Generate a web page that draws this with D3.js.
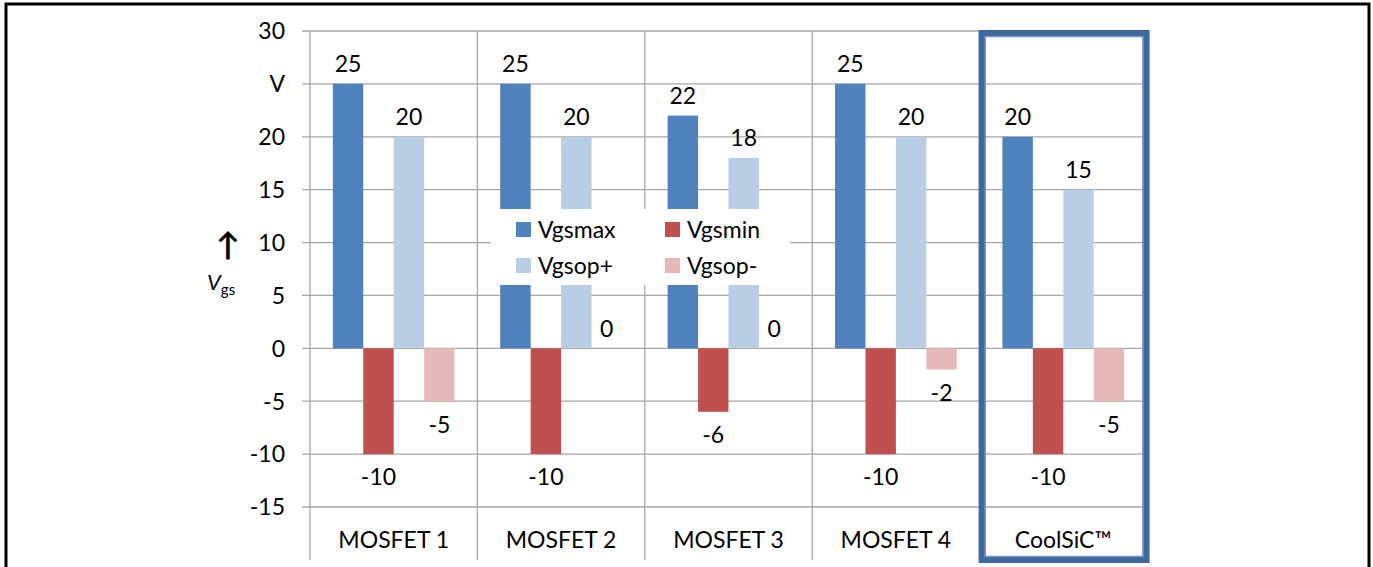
<!DOCTYPE html>
<html>
<head>
<meta charset="utf-8">
<script src="https://cdn.jsdelivr.net/npm/d3@7"></script>
<style>
  body { margin: 0; background: #fff; }
  text { font-family: Lato, "Open Sans", sans-serif; fill: #000; }
</style>
</head>
<body>
<div id="chart"></div>
<script>
// chart data
const categories = ["MOSFET 1", "MOSFET 2", "MOSFET 3", "MOSFET 4", "CoolSiC™"];
const seriesNames = ["Vgsmax", "Vgsmin", "Vgsop+", "Vgsop-"];
const vgsmax = [25, 25, 22, 25, 20];
const vgsmin = [-10, -10, -6, -10, -10];
const vgsopPlus = [20, 20, 18, 20, 15];
const vgsopMinus = [-5, 0, 0, -2, -5];
const yTicks = [30, 25, 20, 15, 10, 5, 0, -5, -10, -15];
const yTickLabels = ["30", "V", "20", "15", "10", "5", "0", "-5", "-10", "-15"];

const seriesValues = [vgsmax, vgsmin, vgsopPlus, vgsopMinus];
const colors = ["#4F81BD", "#C0504D", "#B9CDE5", "#E6B9B8"];

const width = 1373, height = 567;
const margin = { top: 31, right: 226, bottom: 60, left: 310 };
const FS = 23;

const svg = d3.select("#chart").append("svg")
  .attr("width", width)
  .attr("height", height);

// outer frame
svg.append("rect")
  .attr("x", 6).attr("y", 4)
  .attr("width", width - 10).attr("height", height + 10)
  .attr("fill", "none").attr("stroke", "#000").attr("stroke-width", 3);

const x0 = d3.scaleBand()
  .domain(categories)
  .range([margin.left, width - margin.right]);

const x1 = d3.scaleBand()
  .domain(seriesNames)
  .range([0, x0.bandwidth()])
  .paddingOuter(0.75);

const y = d3.scaleLinear()
  .domain([-15, 30])
  .range([height - margin.bottom, margin.top]);

const grid = "#a6a6a6";

// horizontal gridlines + ticks
svg.append("g")
  .selectAll("line")
  .data(yTicks)
  .join("line")
  .attr("x1", margin.left - 8)
  .attr("x2", width - margin.right)
  .attr("y1", d => y(d)).attr("y2", d => y(d))
  .attr("stroke", grid).attr("stroke-width", 1.3);

// category separators (extend through label row)
svg.append("g")
  .selectAll("line")
  .data(categories.map(c => x0(c)).concat([width - margin.right]))
  .join("line")
  .attr("x1", d => d).attr("x2", d => d)
  .attr("y1", y(30)).attr("y2", 560)
  .attr("stroke", grid).attr("stroke-width", 1.3);

// y tick labels
svg.append("g")
  .selectAll("text")
  .data(yTicks)
  .join("text")
  .attr("x", 285)
  .attr("y", d => y(d))
  .attr("dy", "0.36em")
  .attr("text-anchor", "end")
  .style("font-size", FS + "px")
  .text((d, i) => yTickLabels[i]);

// y axis title
svg.append("text")
  .attr("x", 228).attr("y", 256)
  .attr("text-anchor", "middle")
  .style("font-size", "32px")
  .style("font-weight", 700)
  .text("↑");
const yTitle = svg.append("text")
  .attr("x", 207).attr("y", 290)
  .style("font-size", "22px");
yTitle.append("tspan").style("font-style", "italic").text("V");
yTitle.append("tspan").attr("dy", 5).style("font-size", "15px").text("gs");

// bars
const rows = [];
categories.forEach((c, ci) => {
  seriesNames.forEach((s, si) => {
    rows.push({ cat: c, series: s, value: seriesValues[si][ci], color: colors[si] });
  });
});

svg.append("g")
  .selectAll("rect")
  .data(rows.filter(d => d.value !== 0))
  .join("rect")
  .attr("x", d => x0(d.cat) + x1(d.series))
  .attr("width", x1.bandwidth())
  .attr("y", d => y(Math.max(0, d.value)))
  .attr("height", d => Math.abs(y(d.value) - y(0)))
  .attr("fill", d => d.color);

// value labels
svg.append("g")
  .selectAll("text")
  .data(rows)
  .join("text")
  .attr("x", d => x0(d.cat) + x1(d.series) + x1.bandwidth() / 2)
  .attr("y", d => d.value < 0 ? y(d.value) + 23 : y(d.value) - 20)
  .attr("dy", "0.36em")
  .attr("text-anchor", "middle")
  .style("font-size", FS + "px")
  .text(d => d.value);

// category labels
svg.append("g")
  .selectAll("text")
  .data(categories)
  .join("text")
  .attr("x", d => x0(d) + x0.bandwidth() / 2)
  .attr("y", 548)
  .attr("text-anchor", "middle")
  .style("font-size", FS + "px")
  .text(d => d);

// legend
const legend = svg.append("g").attr("transform", "translate(491,209)");
legend.append("rect")
  .attr("width", 299).attr("height", 76)
  .attr("fill", "#fff");
seriesNames.forEach((s, i) => {
  const col = i % 2, row = Math.floor(i / 2);
  const g = legend.append("g")
    .attr("transform", `translate(${25 + col * 149}, ${13 + row * 36})`);
  g.append("rect").attr("width", 15).attr("height", 15).attr("fill", colors[i]);
  g.append("text")
    .attr("x", 22).attr("y", 7.5).attr("dy", "0.36em")
    .style("font-size", FS + "px")
    .text(s);
});

// highlight box around CoolSiC
const hx = x0("CoolSiC™");
svg.append("rect")
  .attr("x", hx - 1 + 3.5).attr("y", 30 + 3.5)
  .attr("width", 171 - 7).attr("height", 533 - 7)
  .attr("fill", "none").attr("stroke", "#3F689F").attr("stroke-width", 7);
svg.append("rect")
  .attr("x", hx - 1 + 6.5).attr("y", 30 + 6.5)
  .attr("width", 171 - 13).attr("height", 533 - 13)
  .attr("fill", "none").attr("stroke", "#6F92C4").attr("stroke-width", 1.5);
</script>
</body>
</html>
